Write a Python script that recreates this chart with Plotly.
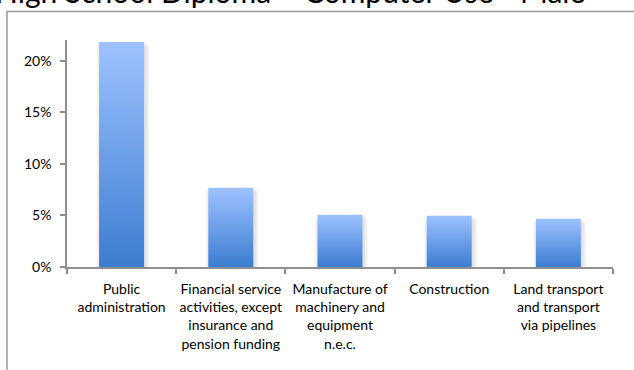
import plotly.graph_objects as go

# Share of male workers with a high school diploma who use a computer, by industry
categories = [
    "Public<br>administration",
    "Financial service<br>activities, except<br>insurance and<br>pension funding",
    "Manufacture of<br>machinery and<br>equipment<br>n.e.c.",
    "Construction",
    "Land transport<br>and transport<br>via pipelines",
]
shares = [0.218, 0.0768, 0.0506, 0.0497, 0.0468]
y_ticks = [0.0, 0.05, 0.10, 0.15, 0.20]
y_tick_labels = ["0%", "5%", "10%", "15%", "20%"]

title_text = "High School Diploma – Computer Use - Male"

# page geometry (pixels)
W, H = 634, 370
PLOT_L, PLOT_R, PLOT_T, PLOT_B = 67, 613, 40, 267.5
Y_MAX = 0.22
HALF_W = 0.206  # half bar width in category units

FONT = "Lato, 'Liberation Sans', sans-serif"
AXIS_GREY = "#8f8f8f"


def px_to_paper_x(px):
    return (px - PLOT_L) / (PLOT_R - PLOT_L)


def px_to_paper_y(py):
    return (PLOT_B - py) / (PLOT_B - PLOT_T)


idx = list(range(len(categories)))
fig = go.Figure()

# soft drop shadow behind each column
for k, alpha in enumerate([0.035, 0.035, 0.035]):
    grow = 0.012 * (k + 1)
    fig.add_trace(go.Bar(
        x=[i + 0.012 for i in idx],
        y=[v - 0.0012 * (k + 1) for v in shares],
        width=2 * (HALF_W + grow),
        marker=dict(color=f"rgba(0,0,0,{alpha})", line=dict(width=0)),
        hoverinfo="skip",
        showlegend=False,
    ))

# columns with a vertical light-to-dark blue gradient
for i, v in zip(idx, shares):
    x0, x1 = i - HALF_W, i + HALF_W
    fig.add_trace(go.Scatter(
        x=[x0, x1, x1, x0, x0],
        y=[0, 0, v, v, 0],
        mode="lines",
        line=dict(width=0),
        fill="toself",
        fillgradient=dict(
            type="vertical",
            colorscale=[[0, "#3b7dd0"], [0.5, "#6d9fe8"], [1, "#9dc2ff"]],
        ),
        hoverinfo="skip",
        showlegend=False,
    ))

# invisible trace that carries the category labels on the overlay axis
fig.add_trace(go.Scatter(
    x=idx, y=[0] * len(idx), xaxis="x2", mode="markers",
    marker=dict(opacity=0), hoverinfo="skip", showlegend=False,
))

boundaries = [i - 0.5 for i in idx] + [idx[-1] + 0.5]

fig.update_layout(
    width=W, height=H,
    margin=dict(l=PLOT_L, r=W - PLOT_R, t=PLOT_T, b=H - PLOT_B, pad=0),
    paper_bgcolor="white",
    plot_bgcolor="white",
    barmode="overlay",
    showlegend=False,
    font=dict(family=FONT, size=14, color="#000000"),
    xaxis=dict(
        range=[-0.5, len(idx) - 0.5],
        tickvals=boundaries,
        ticktext=[""] * len(boundaries),
        ticks="outside", ticklen=5, tickwidth=1.5, tickcolor=AXIS_GREY,
        showline=True, linecolor=AXIS_GREY, linewidth=1.5,
        showgrid=False, zeroline=False, fixedrange=True,
    ),
    xaxis2=dict(
        overlaying="x", anchor="y", side="bottom",
        range=[-0.5, len(idx) - 0.5],
        tickvals=idx, ticktext=categories,
        ticks="", ticklabelstandoff=12,
        tickfont=dict(family=FONT, size=14, color="#000000"),
        showline=False, showgrid=False, zeroline=False, fixedrange=True,
    ),
    yaxis=dict(
        range=[0, Y_MAX],
        tickvals=y_ticks, ticktext=y_tick_labels,
        ticks="outside", ticklen=5, tickwidth=1.5, tickcolor=AXIS_GREY,
        ticklabelstandoff=6,
        tickfont=dict(family=FONT, size=14, color="#000000"),
        showline=True, linecolor=AXIS_GREY, linewidth=1.5,
        showgrid=False, zeroline=False, fixedrange=True,
    ),
    shapes=[
        # chart-area frame (extends past the right and bottom page edges)
        dict(
            type="rect", xref="paper", yref="paper", layer="below",
            x0=px_to_paper_x(7), x1=px_to_paper_x(W + 20),
            y0=px_to_paper_y(H + 20), y1=px_to_paper_y(11.5),
            line=dict(color="#9a9a9a", width=1.5),
            fillcolor="rgba(0,0,0,0)",
        ),
    ],
    annotations=[
        dict(
            text=title_text, xref="paper", yref="paper",
            x=px_to_paper_x(290), y=px_to_paper_y(11),
            xanchor="center", yanchor="bottom", showarrow=False,
            font=dict(family=FONT, size=30, color="#000000"),
        ),
    ],
)

fig.write_html("out.html")
